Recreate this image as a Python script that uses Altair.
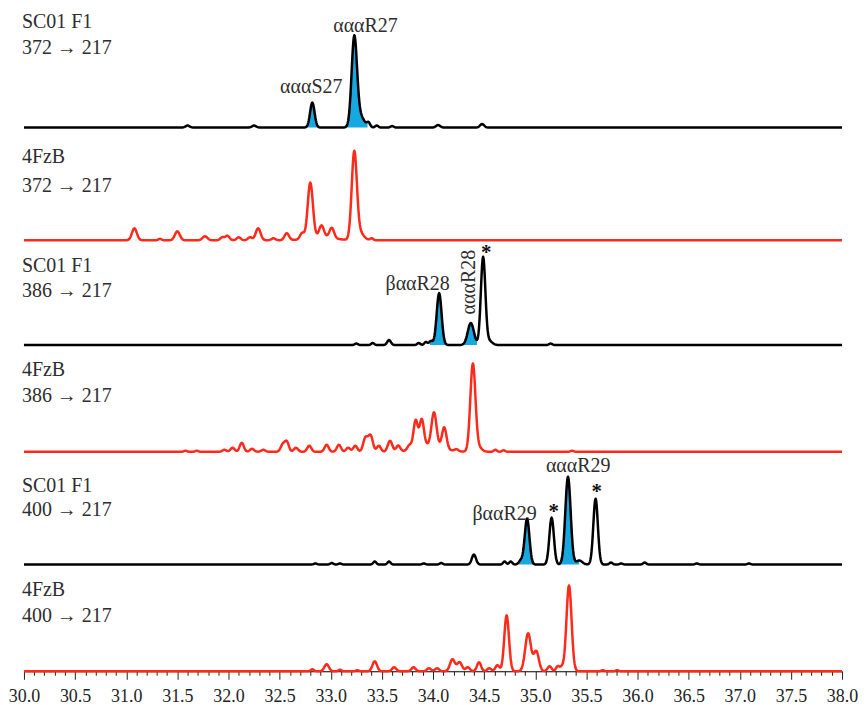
import numpy as np
import pandas as pd
import altair as alt

# ---------------- data ----------------
samples = ["SC01 F1", "4FzB", "SC01 F1", "4FzB", "SC01 F1", "4FzB"]
transitions = ["372 → 217", "372 → 217", "386 → 217", "386 → 217", "400 → 217", "400 → 217"]

# peak retention times (min), heights (arbitrary units), widths (min)
p1_rt = [31.60, 32.25, 32.82, 33.23, 33.28, 33.37, 33.45, 33.60, 34.05, 34.48]
p1_h = [2, 2, 25, 86, 12, 4, 2, 1.5, 2.5, 3.5]
p1_w = [0.02, 0.02, 0.022, 0.026, 0.045, 0.015, 0.015, 0.015, 0.02, 0.02]

p2_rt = [31.08, 31.33, 31.50, 31.77, 31.94, 31.99, 32.10, 32.21, 32.29, 32.44, 32.57,
         32.72, 32.80, 32.91, 33.01, 33.23, 33.28, 33.40, 32.90]
p2_h = [12, 1.5, 9, 4, 3, 4.5, 3, 3, 12, 2, 7, 6, 55, 11, 10, 86, 8, 2, 4]
p2_w = [0.024, 0.015, 0.024, 0.024, 0.02, 0.02, 0.02, 0.02, 0.024, 0.02, 0.022,
        0.02, 0.025, 0.022, 0.022, 0.025, 0.04, 0.015, 0.12]

p3_rt = [33.25, 33.41, 33.57, 33.86, 33.93, 33.98, 34.06, 34.37, 34.49, 34.55, 35.15]
p3_h = [1.5, 2, 5, 2, 3, 4, 52, 22, 88, 4, 1.5]
p3_w = [0.015, 0.015, 0.018, 0.015, 0.015, 0.018, 0.024, 0.03, 0.022, 0.03, 0.015]

p4_rt = [31.58, 31.69, 31.96, 32.04, 32.13, 32.23, 32.34, 32.53, 32.57, 32.66, 32.79,
         32.96, 33.08, 33.17, 33.24, 33.34, 33.39, 33.47, 33.58, 33.66, 33.77, 33.83,
         33.89, 34.01, 34.11, 34.23, 34.39, 34.45, 34.61, 34.69, 35.36, 33.97]
p4_h = [1, 1, 2, 4, 9, 3, 2, 7, 10, 4, 6, 7, 7, 4, 6, 14, 16, 6, 11, 6, 5, 28,
        27, 33, 21, 2, 88, 4, 2, 1.5, 1, 7]
p4_w = [0.015, 0.015, 0.02, 0.02, 0.02, 0.02, 0.02, 0.02, 0.02, 0.02, 0.02,
        0.02, 0.02, 0.02, 0.02, 0.022, 0.022, 0.02, 0.022, 0.02, 0.02, 0.021,
        0.021, 0.024, 0.022, 0.018, 0.025, 0.03, 0.015, 0.015, 0.015, 0.12]

p5_rt = [32.85, 33.01, 33.09, 33.43, 33.57, 33.91, 34.08, 34.40, 34.70, 34.76, 34.86,
         34.92, 35.16, 35.32, 35.43, 35.59, 35.74, 35.84, 36.07, 36.58, 37.09]
p5_h = [1, 1.5, 1, 3, 3, 1, 1.5, 10, 3, 3, 4, 46, 47, 88, 4, 66, 2, 1, 2, 1, 1]
p5_w = [0.015, 0.015, 0.015, 0.015, 0.015, 0.015, 0.015, 0.02, 0.015, 0.015, 0.02,
        0.023, 0.022, 0.026, 0.03, 0.022, 0.015, 0.015, 0.015, 0.015, 0.015]

p6_rt = [32.82, 32.96, 33.09, 33.26, 33.43, 33.62, 33.81, 33.96, 34.04, 34.19, 34.26,
         34.34, 34.45, 34.55, 34.63, 34.72, 34.93, 35.01, 35.14, 35.22, 35.26, 35.33,
         35.66, 35.80]
p6_h = [2, 7, 1.5, 1, 10, 4, 4, 3, 3, 12, 9, 4, 9, 3, 6, 56, 38, 20, 5, 5, 4, 86, 1, 1]
p6_w = [0.015, 0.022, 0.015, 0.015, 0.022, 0.02, 0.02, 0.02, 0.02, 0.024, 0.024,
        0.02, 0.02, 0.02, 0.02, 0.023, 0.028, 0.025, 0.02, 0.017, 0.017, 0.025,
        0.015, 0.015]

# blue highlighted peak windows (min)
fill_windows = [
    [(32.74, 32.90), (33.14, 33.36)],
    [],
    [(33.97, 34.15), (34.27, 34.43)],
    [],
    [(34.84, 35.01), (35.23, 35.43)],
    [],
]

# peak annotations: panel, text, retention time
ann_panel = [0, 0, 2, 2, 2, 4, 4, 4, 4]
ann_text = ["αααS27", "αααR27", "βααR28", "αααR28", "*", "βααR29", "*", "αααR29", "*"]
ann_rt = [32.81, 33.34, 33.85, 34.35, 34.52, 34.70, 35.18, 35.42, 35.60]

# ---------------- layout / style ----------------
panel_h = [119, 113, 105, 107, 113, 107]
label_y = [(19, 45), (36, 65), (32, 57), (31, 57), (40, 64), (32, 58)]
ann_y = [84, 23, 50, 42, 19, 68, 66, 20, 46]
ann_angle = [0, 0, 0, 270, 0, 0, 0, 0, 0]
colors = ["#000000", "#ff2a1a"] * 3
FILL = "#18a8e0"
SERIF = "Liberation Serif"

peaks = [(p1_rt, p1_h, p1_w), (p2_rt, p2_h, p2_w), (p3_rt, p3_h, p3_w),
         (p4_rt, p4_h, p4_w), (p5_rt, p5_h, p5_w), (p6_rt, p6_h, p6_w)]

grid = np.round(np.linspace(30.0, 38.0, 1601), 4)
XDOM = alt.Scale(domain=[30, 38], nice=False, zero=False)

tick_vals = [round(30 + 0.1 * i, 1) for i in range(81)]
major_test = "abs(datum.value * 2 - round(datum.value * 2)) < 0.01"
bottom_axis = alt.Axis(
    values=tick_vals,
    tickSize={"condition": {"test": major_test, "value": 8}, "value": 4},
    labelExpr=f"{major_test} ? format(datum.value, '.1f') : ''",
    labelFont=SERIF, labelFontSize=18, labelColor="#222222",
    labelPadding=8, labelFlush=False, labelOverlap=False,
    domainColor="#000000", domainWidth=1, tickColor="#222222", tickWidth=1,
    grid=False, title=None,
)

panels = []
for i, (rts, hs, ws) in enumerate(peaks):
    y = np.zeros_like(grid)
    for r, h, w in zip(rts, hs, ws):
        y += h * np.exp(-0.5 * ((grid - r) / w) ** 2)
    df = pd.DataFrame({"rt": grid, "v": np.round(y, 3)})
    H = panel_h[i]
    ysc = alt.Scale(domain=[0, H], nice=False, zero=False)
    last = i == len(peaks) - 1

    layers = []
    if fill_windows[i]:
        parts = []
        for k, (a, b) in enumerate(fill_windows[i]):
            sub = df[(df.rt >= a) & (df.rt <= b)].copy()
            sub["seg"] = k
            parts.append(sub)
        fdf = pd.concat(parts)
        layers.append(
            alt.Chart(fdf).mark_area(color=FILL, opacity=1).encode(
                x=alt.X("rt:Q", scale=XDOM, axis=None),
                y=alt.Y("v:Q", scale=ysc, axis=None),
                y2=alt.datum(0),
                detail="seg:N",
            )
        )
    layers.append(
        alt.Chart(df).mark_line(color=colors[i], strokeWidth=2.5, strokeJoin="round").encode(
            x=alt.X("rt:Q", scale=XDOM, axis=bottom_axis if last else None),
            y=alt.Y("v:Q", scale=ysc, axis=None),
        )
    )
    for txt, yy in zip([samples[i], transitions[i]], label_y[i]):
        layers.append(
            alt.Chart(pd.DataFrame({"t": [txt]})).mark_text(
                font=SERIF, fontSize=20, color="#2e2e2e", align="left", baseline="alphabetic"
            ).encode(text="t:N", x=alt.value(-2), y=alt.value(yy))
        )
    for j, p in enumerate(ann_panel):
        if p != i:
            continue
        star = ann_text[j] == "*"
        layers.append(
            alt.Chart(pd.DataFrame({"t": [ann_text[j]], "rt": [ann_rt[j]]})).mark_text(
                font=SERIF,
                fontSize=21 if star else 20,
                fontWeight="bold" if star else "normal",
                color="#111111" if star else "#2e2e2e",
                align="center",
                baseline="middle" if ann_angle[j] else "alphabetic",
                angle=ann_angle[j],
            ).encode(text="t:N", x=alt.X("rt:Q", scale=XDOM, axis=None), y=alt.value(ann_y[j]))
        )
    panels.append(alt.layer(*layers).properties(width=820, height=H))

chart = alt.vconcat(*panels, spacing=0, bounds="flush").properties(padding=0).configure_view(stroke=None)

chart.save("out.html", embed_options={"renderer": "svg", "actions": False})
